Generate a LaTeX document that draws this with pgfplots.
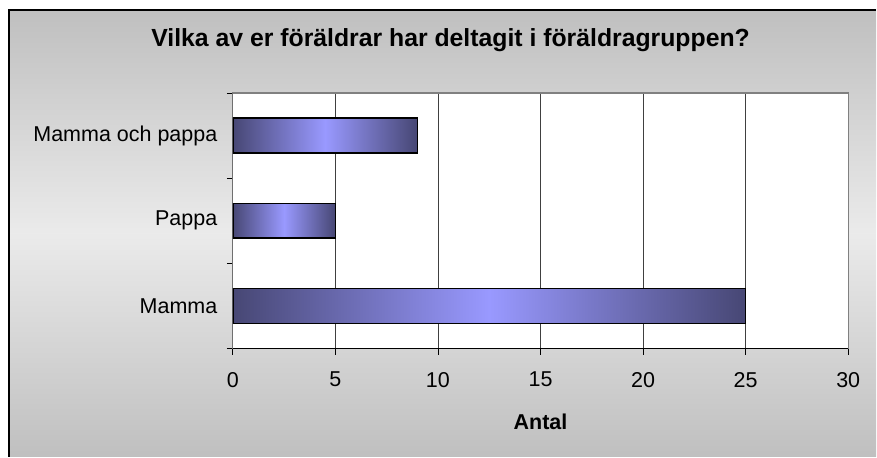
\documentclass[border=0pt]{standalone}
\usepackage{fontspec}
\setmainfont{Liberation Sans}
\usepackage{pgfplots}
\pgfplotsset{compat=1.18}
\definecolor{bardark}{HTML}{474774}
\definecolor{barlight}{HTML}{9999FF}
\definecolor{gridgray}{HTML}{404040}
\begin{document}
\begin{tikzpicture}
% chart area background
\path (0pt,0pt) rectangle (877pt,457pt);
\fill[top color=black!25, bottom color=black!25, middle color=black!8] (9pt,0pt) rectangle (877pt,447pt);
\draw[black, line width=1.6pt] (9pt,0pt) -- (9pt,447pt) -- (877pt,447pt);
\node[font=\fontsize{24.8}{28}\selectfont\bfseries] at (451pt,417pt) {Vilka av er föräldrar har deltagit i föräldragruppen?};
\begin{axis}[
    at={(233pt,108pt)}, anchor=south west,
    scale only axis, width=616pt, height=256pt,
    xbar, bar width=35pt, bar shift=0pt,
    xmin=0, xmax=30, ymin=-0.5, ymax=2.5,
    xtick={0,5,...,30},
    ytick={0,1,2},
    yticklabels={Mamma,Pappa,Mamma och pappa},
    minor ytick={-0.5,0.5,1.5,2.5},
    xtick pos=bottom, ytick pos=left,
    major y tick style={draw=none},
    minor y tick style={black, line width=0.8pt},
    x tick style={black, line width=0.8pt},
    major tick length=6pt, minor tick length=6pt,
    tick align=outside,
    axis background/.style={fill=white},
    axis line style={gray, line width=1.2pt},
    xmajorgrids, grid style={gridgray, line width=0.8pt},
    tick label style={font=\fontsize{21.5}{25}\selectfont},
    /pgf/number format/assume math mode=true,
    xticklabel style={yshift=-14pt},
    yticklabel style={xshift=-6pt},
    xlabel={\bfseries Antal},
    xlabel style={font=\fontsize{21.5}{25}\selectfont, yshift=-20pt},
    bars/.style={draw=black, line width=1.6pt, left color=bardark, right color=bardark, middle color=barlight},
  ]
  \addplot[bars] coordinates {(25,0)};
  \addplot[bars] coordinates {(5,1)};
  \addplot[bars] coordinates {(9,2)};
  \draw[black, line width=1.2pt] (rel axis cs:0,1) -- (rel axis cs:0,0) -- (rel axis cs:1,0);
\end{axis}
\end{tikzpicture}
\end{document}
